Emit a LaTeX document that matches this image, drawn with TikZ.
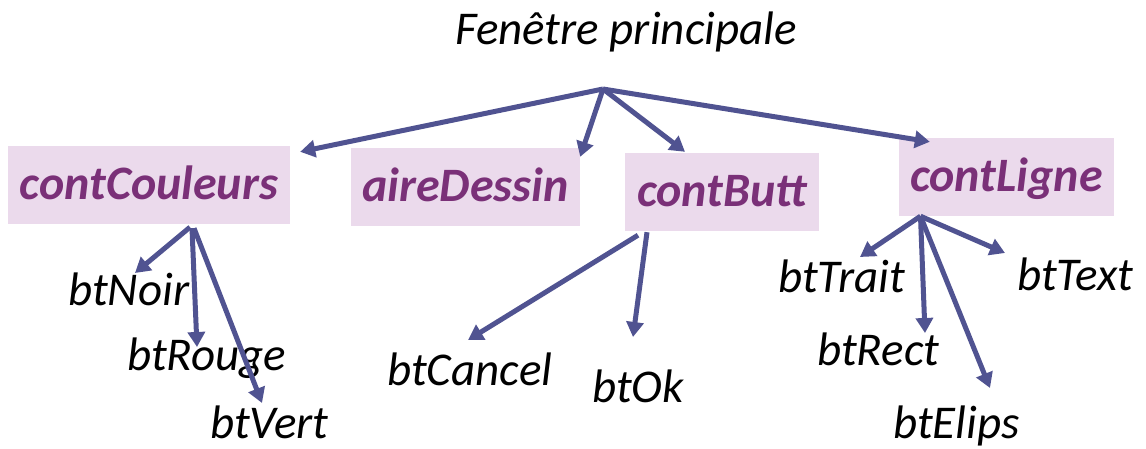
\documentclass[tikz,border=0pt]{standalone}
\usepackage{fontspec}
\setmainfont{Carlito}
\usetikzlibrary{arrows.meta}
\definecolor{fondmauve}{RGB}{235,218,236}
\definecolor{textemauve}{RGB}{122,48,120}
\definecolor{bleufleche}{RGB}{80,83,145}
\begin{document}
\begin{tikzpicture}[x=1pt, y=-1pt, line join=round, >={Triangle[length=15pt,width=17pt]},
  conteneur/.style={fill=fondmauve, text=textemauve, font=\fontsize{48}{52}\selectfont\bfseries\itshape,
    inner sep=0pt, minimum height=78pt, text height=30pt, text depth=0pt},
  bouton/.style={font=\fontsize{47}{51}\selectfont\itshape, inner sep=0pt, anchor=base west},
  lien/.style={->, draw=bleufleche, line width=5pt}]
\useasboundingbox (0,0) rectangle (1146,449);
%Fenêtre et conteneurs
\node[bouton] (titre) at (455,45) {Fenêtre principale};
\coordinate (racine) at (603,89);
\node[conteneur, minimum width=282pt] (contCouleurs) at (149,185) {contCouleurs};
\node[conteneur, minimum width=229pt] (aireDessin) at (465.5,187) {aireDessin};
\node[conteneur, minimum width=194pt] (contButt) at (722,192) {contButt};
\node[conteneur, minimum width=215pt] (contLigne) at (1006.5,177) {contLigne};
%Boutons
\node[bouton] (btNoir) at (68,305) {btNoir};
\node[bouton] (btRouge) at (127,370) {btRouge};
\node[bouton] (btVert) at (210,438) {btVert};
\node[bouton] (btCancel) at (387,385) {btCancel};
\node[bouton] (btOk) at (592,402) {btOk};
\node[bouton] (btTrait) at (778,292) {btTrait};
\node[bouton] (btText) at (1017,290) {btText};
\node[bouton] (btRect) at (817,365) {btRect};
\node[bouton] (btElips) at (893,438) {btElips};
%Flèches depuis la fenêtre
\draw[lien] (racine) -- ([shift={(10,6)}]contCouleurs.north east);
\draw[lien] (racine) -- ([shift={(0,9)}]aireDessin.north east);
\draw[lien] (racine) -- ([shift={(-37,-1)}]contButt.north);
\draw[lien] (racine) -- ([shift={(31,4)}]contLigne.north west);
%Flèches vers les boutons
\draw[lien] ([shift={(41,3)}]contCouleurs.south) -- ([shift={(67,-32)}]btNoir.base west);
\draw[lien] ([shift={(43,4)}]contCouleurs.south) -- ([shift={(70,-23)}]btRouge.base west);
\draw[lien] ([shift={(45,4)}]contCouleurs.south) -- ([shift={(52,-35)}]btVert.base west);
\draw[lien] ([shift={(-84,4)}]contButt.south) -- ([shift={(81,-45)}]btCancel.base west);
\draw[lien] ([shift={(-75,1)}]contButt.south) -- ([shift={(41,-65)}]btOk.base west);
\draw[lien] ([shift={(-86,0)}]contLigne.south) -- ([shift={(82,-35)}]btTrait.base west);
\draw[lien] ([shift={(-86,0)}]contLigne.south) -- ([shift={(-12,-37)}]btText.base west);
\draw[lien] ([shift={(-86,0)}]contLigne.south) -- ([shift={(108,-32)}]btRect.base west);
\draw[lien] ([shift={(-86,0)}]contLigne.south) -- ([shift={(97,-50)}]btElips.base west);
\end{tikzpicture}
\end{document}
